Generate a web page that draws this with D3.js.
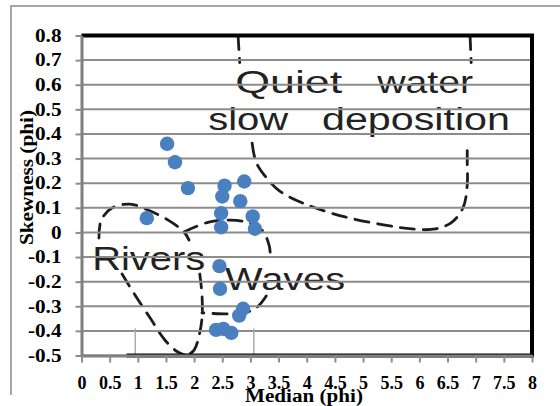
<!DOCTYPE html>
<html>
<head>
<meta charset="utf-8">
<script src="https://cdn.jsdelivr.net/npm/d3@7"></script>
<style>
  body { margin: 0; background: #fff; }
</style>
</head>
<body>
<div id="chart"></div>
<script>
// sample points: median grain size vs skewness (phi)
const medianPhi = [1.52, 1.66, 1.89, 2.54, 2.89, 2.50, 2.82, 1.16, 2.48, 2.48,
  3.04, 3.08, 2.45, 2.46, 2.87, 2.80, 2.39, 2.52, 2.66];
const skewPhi = [0.36, 0.285, 0.18, 0.19, 0.207, 0.146, 0.127, 0.058, 0.078, 0.021,
  0.065, 0.015, -0.137, -0.229, -0.31, -0.338, -0.396, -0.392, -0.408];

const xTickValues = [0, 0.5, 1, 1.5, 2, 2.5, 3, 3.5, 4, 4.5, 5, 5.5, 6, 6.5, 7, 7.5, 8];
const xTickLabels = ["0", "0.5", "1", "1.5", "2", "2.5", "3", "3.5", "4", "4.5", "5",
  "5.5", "6", "6.5", "7", "7.5", "8"];
const yTickValues = [0.8, 0.7, 0.6, 0.5, 0.4, 0.3, 0.2, 0.1, 0, -0.1, -0.2, -0.3, -0.4, -0.5];
const yTickLabels = ["0.8", "0.7", "0.6", "0.5", "0.4", "0.3", "0.2", "0.1", "0",
  "-0.1", "-0.2", "-0.3", "-0.4", "-0.5"];

// dashed boundaries of the environment fields, traced in phi units
const quietTopLeft = [[2.78, 0.80], [2.81, 0.69]];
const quietTopRight = [[6.90, 0.80], [6.92, 0.69]];
const quietBasin = [[3.03, 0.363], [3.10, 0.286], [3.26, 0.229], [3.52, 0.168], [4.02, 0.111],
  [4.68, 0.063], [5.39, 0.030], [5.87, 0.014], [6.28, 0.014], [6.58, 0.042], [6.78, 0.103],
  [6.85, 0.193], [6.85, 0.286], [6.85, 0.363]];
const riversTop = [[0.31, -0.023], [0.35, 0.050], [0.54, 0.099], [0.86, 0.115], [1.18, 0.091],
  [1.54, 0.050], [1.82, 0.002], [1.91, -0.031]];
const riversRight = [[2.10, -0.169], [2.14, -0.254], [2.14, -0.348], [2.09, -0.417],
  [2.00, -0.478], [1.86, -0.502]];
const riversLeft = [[0.72, -0.169], [0.95, -0.254], [1.22, -0.348], [1.48, -0.437],
  [1.71, -0.486], [1.89, -0.502]];
const wavesTop = [[1.82, 0.002], [2.26, 0.042], [2.64, 0.050], [2.99, 0.038], [3.22, 0.006],
  [3.33, -0.051], [3.35, -0.080]];
const wavesBottom = [[3.28, -0.258], [3.12, -0.303], [2.90, -0.327], [2.60, -0.331], [2.14, -0.327]];

// field names and where their first letter sits (phi units)
const fieldWords = ["Quiet", "water", "slow", "deposition", "Rivers", "Waves"];
const fieldWordX = [2.73, 5.25, 2.25, 4.27, 0.19, 2.55];
const fieldWordY = [0.566, 0.566, 0.416, 0.416, -0.153, -0.234];
const fieldWordSize = [31, 31, 31, 31, 34, 31];
const fieldWordLength = [107, 96, 80, 188, 113, 120];

const margin = { top: 35.5, right: 28, bottom: 50.5, left: 81.5 },
  width = 560 - margin.left - margin.right,
  height = 406 - margin.top - margin.bottom;

const svgRoot = d3.select("#chart").append("svg")
  .attr("width", 560)
  .attr("height", 406);

// outer chart frame (only top and left edges show)
svgRoot.append("line").attr("x1", 10).attr("x2", 560).attr("y1", 6).attr("y2", 6)
  .attr("stroke", "#a6a6a6").attr("stroke-width", 2);
svgRoot.append("line").attr("x1", 11).attr("x2", 11).attr("y1", 6).attr("y2", 395)
  .attr("stroke", "#a6a6a6").attr("stroke-width", 2);

const svg = svgRoot.append("g")
  .attr("transform", "translate(" + margin.left + "," + margin.top + ")");

const x = d3.scaleLinear().domain([0, 8]).range([0, width]);
const y = d3.scaleLinear().domain([-0.5, 0.8]).range([height, 0]);

// background diagram
const line = d3.line().x(d => x(d[0])).y(d => y(d[1])).curve(d3.curveCatmullRom);
const boundaries = [quietTopLeft, quietTopRight, quietBasin, riversTop, riversRight,
  riversLeft, wavesTop, wavesBottom];
svg.append("g")
  .selectAll("path")
  .data(boundaries)
  .enter()
  .append("path")
  .attr("d", line)
  .attr("fill", "none")
  .attr("stroke", "#1c1c1c")
  .attr("stroke-width", 2.8)
  .attr("stroke-linecap", "round")
  .attr("stroke-dasharray", "14,9");

svg.append("g")
  .selectAll("text")
  .data(fieldWords)
  .enter()
  .append("text")
  .attr("x", (d, i) => x(fieldWordX[i]))
  .attr("y", (d, i) => y(fieldWordY[i]))
  .attr("font-family", "'Liberation Sans', Arial, sans-serif")
  .attr("font-size", (d, i) => fieldWordSize[i])
  .attr("textLength", (d, i) => fieldWordLength[i])
  .attr("lengthAdjust", "spacingAndGlyphs")
  .attr("fill", "#222")
  .text(d => d);

// horizontal gridlines
svg.append("g")
  .selectAll("line")
  .data(yTickValues)
  .enter()
  .append("line")
  .attr("x1", 0)
  .attr("x2", width)
  .attr("y1", d => y(d))
  .attr("y2", d => y(d))
  .attr("stroke", "#8c8c8c")
  .attr("stroke-width", 2);

// faint tick marks left over from the scanned diagram
svg.append("g")
  .selectAll("line")
  .data([0.955, 3.06])
  .enter()
  .append("line")
  .attr("x1", d => x(d))
  .attr("x2", d => x(d))
  .attr("y1", y(-0.39))
  .attr("y2", y(-0.5))
  .attr("stroke", "#aaa")
  .attr("stroke-width", 1.5);

// plot border
svg.append("line").attr("x1", 0).attr("x2", width + 2).attr("y1", 0).attr("y2", 0)
  .attr("stroke", "#000").attr("stroke-width", 4);
svg.append("line").attr("x1", width).attr("x2", width).attr("y1", 0).attr("y2", height + 2)
  .attr("stroke", "#000").attr("stroke-width", 4);
svg.append("line").attr("x1", x(0.8)).attr("x2", width + 2).attr("y1", height).attr("y2", height)
  .attr("stroke", "#000").attr("stroke-width", 4);

// X axis
const xAxis = svg.append("g")
  .attr("transform", "translate(0," + height + ")")
  .call(d3.axisBottom(x)
    .tickValues(xTickValues)
    .tickFormat((d, i) => xTickLabels[i])
    .tickSize(7)
    .tickSizeOuter(0));
xAxis.select(".domain").attr("stroke", "#7f7f7f").attr("stroke-width", 3);
xAxis.selectAll(".tick line").attr("stroke", "#8c8c8c").attr("stroke-width", 2);
xAxis.selectAll(".tick text")
  .attr("y", 33)
  .attr("dy", 0)
  .attr("fill", "#000")
  .style("font-family", "'Liberation Serif', 'Times New Roman', serif")
  .style("font-weight", "bold")
  .style("font-size", "18px");

// Y axis
const yAxis = svg.append("g")
  .call(d3.axisLeft(y)
    .tickValues(yTickValues)
    .tickFormat((d, i) => yTickLabels[i])
    .tickSize(6)
    .tickSizeOuter(0));
yAxis.select(".domain").attr("stroke", "#7f7f7f").attr("stroke-width", 3);
yAxis.selectAll(".tick line").attr("stroke", "#8c8c8c").attr("stroke-width", 2);
yAxis.selectAll(".tick text")
  .attr("x", -20 / 1.18)
  .attr("transform", "scale(1.18,1)")
  .attr("fill", "#000")
  .style("font-family", "'Liberation Serif', 'Times New Roman', serif")
  .style("font-weight", "bold")
  .style("font-size", "18px");

// axis titles
svgRoot.append("text")
  .attr("x", 304)
  .attr("y", 402)
  .attr("text-anchor", "middle")
  .attr("textLength", 118)
  .attr("lengthAdjust", "spacingAndGlyphs")
  .style("font-family", "'Liberation Serif', 'Times New Roman', serif")
  .style("font-weight", "bold")
  .style("font-size", "18px")
  .text("Median (phi)");

svgRoot.append("text")
  .attr("transform", "translate(33,177.5) rotate(-90)")
  .attr("text-anchor", "middle")
  .attr("textLength", 135)
  .attr("lengthAdjust", "spacingAndGlyphs")
  .style("font-family", "'Liberation Serif', 'Times New Roman', serif")
  .style("font-weight", "bold")
  .style("font-size", "18px")
  .text("Skewness (phi)");

// the samples
svg.append("g")
  .selectAll("circle")
  .data(medianPhi)
  .enter()
  .append("circle")
  .attr("cx", d => x(d))
  .attr("cy", (d, i) => y(skewPhi[i]))
  .attr("r", 7.2)
  .attr("fill", "#4a7fc0");
</script>
</body>
</html>
